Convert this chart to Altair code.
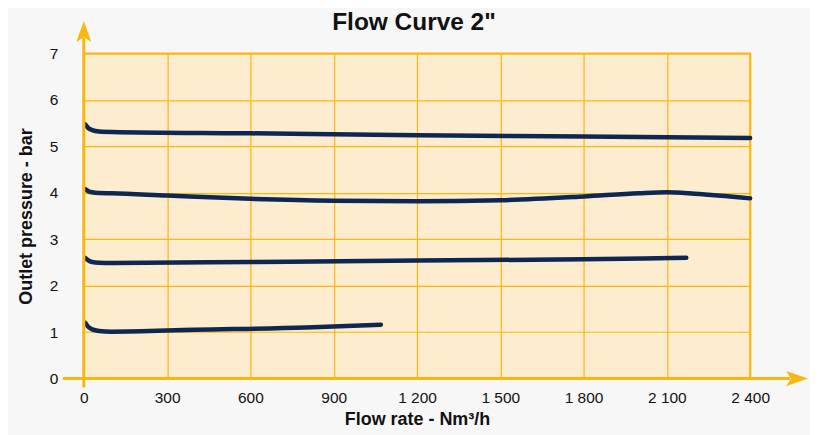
import altair as alt
import pandas as pd

# Data
s1_x = [5, 15, 30, 55, 100, 600, 1200, 1800, 2400]
s1_y = [5.47, 5.40, 5.35, 5.32, 5.31, 5.28, 5.24, 5.21, 5.18]

s2_x = [5, 15, 30, 55, 100, 300, 600, 900, 1200, 1500, 1800, 2000, 2100, 2200, 2400]
s2_y = [4.08, 4.04, 4.01, 3.995, 3.99, 3.94, 3.87, 3.83, 3.82, 3.84, 3.92, 3.99, 4.01, 3.98, 3.88]

s3_x = [5, 15, 30, 55, 100, 600, 1200, 1800, 2170]
s3_y = [2.60, 2.55, 2.51, 2.495, 2.49, 2.51, 2.54, 2.57, 2.60]

s4_x = [5, 15, 30, 55, 100, 400, 800, 1070]
s4_y = [1.20, 1.12, 1.06, 1.025, 1.01, 1.05, 1.10, 1.16]

x_ticks = [0, 300, 600, 900, 1200, 1500, 1800, 2100, 2400]
y_ticks = [0, 1, 2, 3, 4, 5, 6, 7]
title_text = "Flow Curve 2\""

rows = []
for name, xs, ys in [("a", s1_x, s1_y), ("b", s2_x, s2_y), ("c", s3_x, s3_y), ("d", s4_x, s4_y)]:
    for i, (x, y) in enumerate(zip(xs, ys)):
        rows.append({"series": name, "flow": x, "pressure": y, "order": i})
df = pd.DataFrame(rows)

ORANGE = "#F9B712"
NAVY = "#0E2752"
FONT = "Liberation Sans"

W, H = 668, 326

x_enc = alt.X(
    "flow:Q",
    scale=alt.Scale(domain=[0, 2400], nice=False, zero=False),
    axis=alt.Axis(
        values=x_ticks,
        labelExpr="replace(format(datum.value, ',d'), ',', ' ')",
        title="Flow rate - Nm³/h",
        titleFont=FONT, titleFontSize=18, titleFontWeight="bold", titleColor="#111",
        titlePadding=5,
        labelFont=FONT, labelFontSize=15.5, labelColor="#111", labelPadding=12,
        labelFlush=False, labelOverlap=False,
        ticks=False, domain=False, grid=True, gridColor=ORANGE, gridWidth=1.2,
    ),
)
y_enc = alt.Y(
    "pressure:Q",
    scale=alt.Scale(domain=[0, 7], nice=False, zero=True),
    axis=alt.Axis(
        values=y_ticks,
        title="Outlet pressure - bar",
        titleFont=FONT, titleFontSize=18, titleFontWeight="bold", titleColor="#111",
        titlePadding=14,
        labelFont=FONT, labelFontSize=15.5, labelColor="#111", labelPadding=26,
        labelFlush=False, labelOverlap=False,
        ticks=False, domain=False, grid=True, gridColor=ORANGE, gridWidth=1.2,
    ),
)

lines = alt.Chart(df).mark_line(
    color=NAVY, strokeWidth=4.5, interpolate="monotone", strokeCap="round"
).encode(x=x_enc, y=y_enc, detail="series:N", order="order:Q")

deco_src = alt.Chart(pd.DataFrame({"k": [0]}))

x_axis_line = deco_src.mark_rule(color=ORANGE, strokeWidth=3).encode(
    x=alt.value(-21), x2=alt.value(708), y=alt.value(H)
)
y_axis_line = deco_src.mark_rule(color=ORANGE, strokeWidth=3).encode(
    x=alt.value(0), y=alt.value(H + 9), y2=alt.value(-16)
)
x_arrow = deco_src.mark_point(
    shape="M-1,-0.7 L1,0 L-1,0.7 L-0.55,0 Z", filled=True, color=ORANGE,
    opacity=1, size=484, strokeWidth=0,
).encode(x=alt.value(715), y=alt.value(H))
y_arrow = deco_src.mark_point(
    shape="M-0.72,1 L0,-1 L0.72,1 L0,0.55 Z", filled=True, color=ORANGE,
    opacity=1, size=441, strokeWidth=0,
).encode(x=alt.value(0), y=alt.value(-22))

title_mark = alt.Chart(pd.DataFrame({"t": [title_text]})).mark_text(
    font=FONT, fontSize=24.5, fontWeight="bold", color="#111",
    align="center", baseline="alphabetic",
).encode(text="t:N", x=alt.value(331), y=alt.value(-23))

chart = alt.layer(lines, x_axis_line, y_axis_line, x_arrow, y_arrow, title_mark).properties(
    width=W, height=H,
    autosize=alt.AutoSizeParams(type="none"),
    padding={"left": 76, "top": 45, "right": 60, "bottom": 56},
    background="#f8f7f7",
).configure_view(
    fill="#FDECCD", stroke=ORANGE, strokeWidth=2
)

chart.save("out.html", embed_options={"renderer": "svg", "actions": False})
